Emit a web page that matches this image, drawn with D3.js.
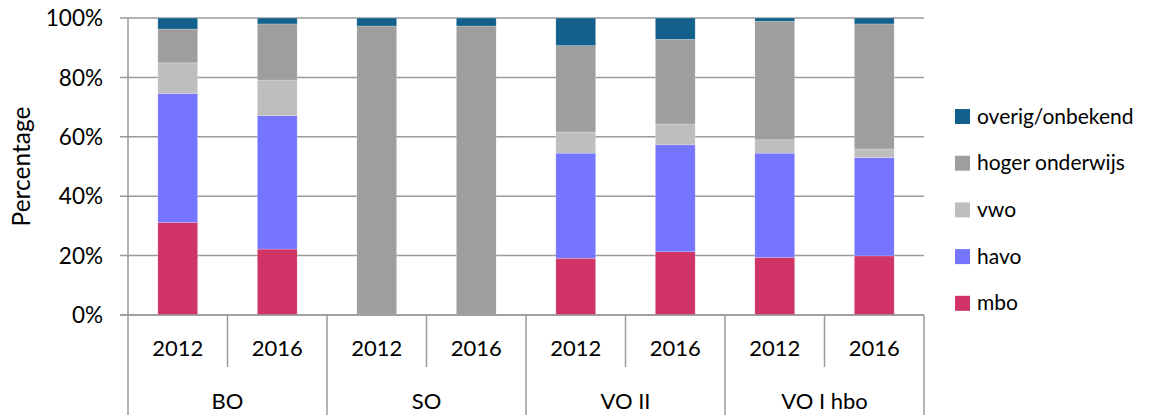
<!DOCTYPE html>
<html>
<head>
<meta charset="utf-8">
<script src="https://cdn.jsdelivr.net/npm/d3@7/dist/d3.min.js"></script>
<style>
  body { margin: 0; background: #fff; }
  svg text { font-family: Lato, "Open Sans", sans-serif; fill: #000; }
</style>
</head>
<body>
<svg id="chart" width="1171" height="415"></svg>
<script>
// categories
const groups = ['BO', 'SO', 'VO II', 'VO I hbo'];
const years = ['2012', '2016'];
const seriesNames = ['mbo', 'havo', 'vwo', 'hoger onderwijs', 'overig/onbekend'];
const seriesColors = ['#d03365', '#7575ff', '#bebebe', '#9e9e9e', '#13608c'];

// values per bar, order: BO 2012, BO 2016, SO 2012, SO 2016, VO II 2012, VO II 2016, VO I hbo 2012, VO I hbo 2016
const mbo    = [31.2, 22.2, 0.0, 0.0, 19.1, 21.3, 19.4, 19.9];
const havo   = [43.4, 44.9, 0.2, 0.2, 35.4, 36.0, 35.1, 33.1];
const vwo    = [10.3, 12.0, 0.0, 0.0,  7.1,  7.0,  4.5,  2.9];
const hoger  = [11.4, 18.9, 97.1, 97.1, 29.1, 28.5, 39.9, 42.1];
const overig = [ 3.7,  2.0, 2.7, 2.7,  9.3,  7.2,  1.1,  2.0];

const yTicks = [0, 20, 40, 60, 80, 100];

const svg = d3.select('#chart');
const plotLeft = 128, plotRight = 924, plotTop = 18, plotBottom = 315;

const rows = [];
groups.forEach((g, gi) => years.forEach((yr, yi) => {
  const i = gi * 2 + yi;
  rows.push({
    key: g + '|' + yr, group: g, year: yr,
    'mbo': mbo[i], 'havo': havo[i], 'vwo': vwo[i],
    'hoger onderwijs': hoger[i], 'overig/onbekend': overig[i]
  });
}));

const x = d3.scaleBand()
  .domain(rows.map(d => d.key))
  .range([plotLeft, plotRight])
  .paddingInner(0.6)
  .paddingOuter(0.3);

const xGroup = d3.scaleBand()
  .domain(groups)
  .range([plotLeft, plotRight]);

const y = d3.scaleLinear().domain([0, 100]).range([plotBottom, plotTop]);

const color = d3.scaleOrdinal().domain(seriesNames).range(seriesColors);

// gridlines
svg.append('g')
  .selectAll('line')
  .data(yTicks)
  .join('line')
    .attr('x1', plotLeft - 8)
    .attr('x2', plotRight)
    .attr('y1', d => y(d))
    .attr('y2', d => y(d))
    .attr('stroke', '#9a9a9a')
    .attr('stroke-width', 1.5);

// y tick labels
svg.append('g')
  .selectAll('text')
  .data(yTicks)
  .join('text')
    .attr('x', 103)
    .attr('y', d => y(d))
    .attr('dy', '0.36em')
    .attr('text-anchor', 'end')
    .style('font-size', '22.5px')
    .text(d => d + '%');

svg.append('text')
  .attr('transform', `translate(30, ${(plotTop + plotBottom) / 2}) rotate(-90)`)
  .attr('text-anchor', 'middle')
  .style('font-size', '24.5px')
  .text('Percentage');

// stacked bars
const stack = d3.stack().keys(seriesNames);
const layers = stack(rows);

svg.append('g')
  .selectAll('g')
  .data(layers)
  .join('g')
    .attr('fill', d => color(d.key))
  .selectAll('rect')
  .data(d => d)
  .join('rect')
    .attr('x', d => x(d.data.key))
    .attr('width', x.bandwidth())
    .attr('y', d => y(d[1]))
    .attr('height', d => y(d[0]) - y(d[1]))
    .attr('stroke', '#ffffff')
    .attr('stroke-opacity', 0.35)
    .attr('stroke-width', 0.6);

// axis lines
const axis = svg.append('g').attr('stroke', '#9a9a9a').attr('stroke-width', 1.5);
axis.append('line').attr('x1', plotLeft).attr('x2', plotLeft).attr('y1', plotTop).attr('y2', 415);
axis.append('line').attr('x1', plotLeft - 8).attr('x2', plotRight).attr('y1', plotBottom).attr('y2', plotBottom);

// year separators (short) and group separators (long)
axis.selectAll('.year-sep')
  .data(groups)
  .join('line')
    .attr('class', 'year-sep')
    .attr('x1', g => xGroup(g) + xGroup.bandwidth() / 2)
    .attr('x2', g => xGroup(g) + xGroup.bandwidth() / 2)
    .attr('y1', plotBottom)
    .attr('y2', 367);
axis.selectAll('.group-sep')
  .data(groups)
  .join('line')
    .attr('class', 'group-sep')
    .attr('x1', g => xGroup(g) + xGroup.bandwidth())
    .attr('x2', g => xGroup(g) + xGroup.bandwidth())
    .attr('y1', plotBottom)
    .attr('y2', 415);

// year labels
svg.append('g')
  .selectAll('text')
  .data(rows)
  .join('text')
    .attr('x', d => x(d.key) + x.bandwidth() / 2)
    .attr('y', 348.5)
    .attr('dy', '0.36em')
    .attr('text-anchor', 'middle')
    .style('font-size', '22px')
    .text(d => d.year);

// group labels
svg.append('g')
  .selectAll('text')
  .data(groups)
  .join('text')
    .attr('x', g => xGroup(g) + xGroup.bandwidth() / 2)
    .attr('y', 401)
    .attr('dy', '0.36em')
    .attr('text-anchor', 'middle')
    .style('font-size', '22px')
    .text(g => g);

// legend, top entry is the last series
const legendOrder = seriesNames.slice().reverse();
const legend = svg.append('g')
  .selectAll('g')
  .data(legendOrder)
  .join('g')
    .attr('transform', (d, i) => `translate(955, ${116 + i * 46.7})`);

legend.append('rect')
  .attr('x', 0)
  .attr('y', -7)
  .attr('width', 15)
  .attr('height', 15)
  .attr('fill', d => color(d));

legend.append('text')
  .attr('x', 22)
  .attr('y', 0)
  .attr('dy', '0.36em')
  .style('font-size', '21px')
  .text(d => d);
</script>
</body>
</html>
